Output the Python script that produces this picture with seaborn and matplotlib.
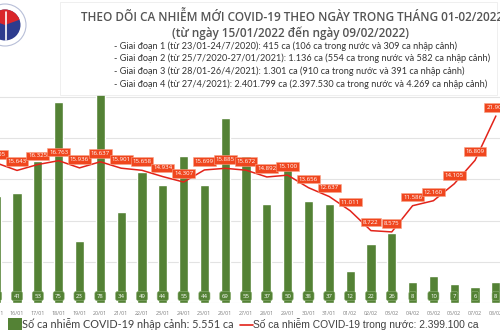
import numpy as np
import pandas as pd
import matplotlib
matplotlib.use("Agg")
import matplotlib.pyplot as plt
import seaborn as sns
from matplotlib.patches import Rectangle, Circle, Wedge
from matplotlib.lines import Line2D

# ---------------- data ----------------
dates = ["15/01", "16/01", "17/01", "18/01", "19/01", "20/01", "21/01", "22/01",
         "23/01", "24/01", "25/01", "26/01", "27/01", "28/01", "29/01", "30/01",
         "31/01", "01/02", "02/02", "03/02", "04/02", "05/02", "06/02", "07/02", "08/02"]
imported = [40, 41, 53, 75, 23, 78, 34, 49, 44, 55, 44, 69, 55, 37, 50, 38,
            37, 12, 22, 26, 8, 10, 7, 6, 8]
domestic = [16505, 15643, 16325, 16763, 15936, 16637, 15901, 15658, 14934, 14307,
            15699, 15885, 15672, 14892, 15100, 13656, 12637, 11011, 8722, 8575,
            11586, 12160, 14105, 16809, 21901]

title1 = "THEO DÕI CA NHIỄM MỚI COVID-19 THEO NGÀY TRONG THÁNG 01-02/2022"
title2 = "(từ ngày 15/01/2022 đến ngày 09/02/2022)"
info_lines = [
    "- Giai đoạn 1 (từ 23/01-24/7/2020): 415 ca (106 ca trong nước và 309 ca nhập cảnh)",
    "- Giai đoạn 2 (từ 25/7/2020-27/01/2021): 1.136 ca (554 ca trong nước và 582 ca nhập cảnh)",
    "- Giai đoạn 3 (từ 28/01-26/4/2021): 1.301 ca (910 ca trong nước và 391 ca nhập cảnh)",
    "- Giai đoạn 4 (từ 27/4/2021): 2.401.799 ca (2.397.530 ca trong nước và 4.269 ca nhập cảnh)",
]
legend_bar = "Số ca nhiễm COVID-19 nhập cảnh: 5.551 ca"
legend_line = "Số ca nhiễm COVID-19 trong nước: 2.399.100 ca"

def fmt(v):
    return f"{v:,}".replace(",", ".")

df = pd.DataFrame({"date": dates, "imported": imported, "domestic": domestic})

# ---------------- figure ----------------
sns.set_style("white")
plt.rcParams["font.family"] = ["Open Sans", "DejaVu Sans"]

GREEN = "#548235"
RED = "#e2231a"
LABEL_RED = "#f0461e"

fig = plt.figure(figsize=(5.0, 3.33), dpi=100)
fig.patch.set_facecolor("white")

ax = fig.add_axes([-0.0284, 0.0901, 1.0826, 0.7417])
sns.barplot(data=df, x="date", y="imported", color=GREEN, width=0.44,
            saturation=1, ax=ax, zorder=2)
ax.set_xlim(-0.5, 25.5)
ax.set_ylim(0, 92.3)
ax.set_yticks(np.arange(0, 92, 15.4))
ax.yaxis.grid(True, color="#e3e3e3", lw=0.8, zorder=0)
ax.set_axisbelow(True)
ax.tick_params(axis="y", left=False, labelleft=False)
ax.tick_params(axis="x", bottom=False, labelsize=3.9, labelcolor="#7f7f7f", pad=2.5)
ax.set_xlabel("")
ax.set_ylabel("")
for s in ax.spines.values():
    s.set_visible(False)

for i, v in enumerate(imported):
    ax.annotate(str(v), (i, 0), xytext=(0, 5.0), textcoords="offset points",
                ha="center", va="center", fontsize=4.3, color="white", zorder=5,
                bbox=dict(boxstyle="round,pad=0.35", fc=GREEN, ec="#8fb276", lw=0.4))

ax2 = ax.twinx()
sns.lineplot(x=np.arange(len(domestic)), y=domestic, color=RED, lw=1.1, ax=ax2,
             zorder=3)
ax2.set_ylim(400, 28800)
ax2.set_xlim(-0.5, 25.5)
ax2.axis("off")
for i, v in enumerate(domestic):
    ax2.annotate(fmt(v), (i, v), xytext=(0, 6.2), textcoords="offset points",
                 ha="center", va="center", fontsize=4.4, color="white", zorder=6,
                 bbox=dict(boxstyle="square,pad=0.3", fc=LABEL_RED, ec="#f7a58a", lw=0.4))

# ---------------- overlay (header, logo, legend) in pixel coords ----------------
ov = fig.add_axes([0, 0, 1, 1], zorder=10)
ov.set_xlim(0, 500)
ov.set_ylim(333, 0)
ov.axis("off")

ov.add_patch(Rectangle((60, 2), 437, 93, fill=False, ec="#ececec", lw=0.6))

# logo
ov.add_patch(Circle((5, 25), 21, fc="white", ec="#b8bfd8", lw=0.8))
ov.add_patch(Circle((5, 25), 15.5, fc="#2d3c8e", ec="none"))
ov.add_patch(Wedge((5, 25), 15.5, 200, 340, fc="#d9262b", ec="none"))
ov.add_line(Line2D([6, 6], [12, 40], color="white", lw=1.2))

ov.text(292, 17, title1, ha="center", va="center", fontsize=8.5,
        fontweight="semibold", color="#555555")
ov.text(291, 33, title2, ha="center", va="center", fontsize=8.5,
        fontweight="semibold", color="#555555")
for k, line in enumerate(info_lines):
    ov.text(114, 46 + k * 12.7, line, ha="left", va="center", fontsize=6.6,
            color="#333333", family=["Lato", "DejaVu Sans"])

# legend
ov.add_patch(Rectangle((8, 318), 13.5, 12, fc=GREEN, ec="none"))
ov.text(22, 324, legend_bar, ha="left", va="center", fontsize=7.85,
        color="#404040", family=["Lato", "DejaVu Sans"])
ov.add_line(Line2D([240, 253], [325, 325], color=RED, lw=1.2))
ov.text(253, 324, legend_line, ha="left", va="center", fontsize=7.35,
        color="#404040", family=["Liberation Sans", "DejaVu Sans"])

fig.savefig("out.png", dpi=100)
